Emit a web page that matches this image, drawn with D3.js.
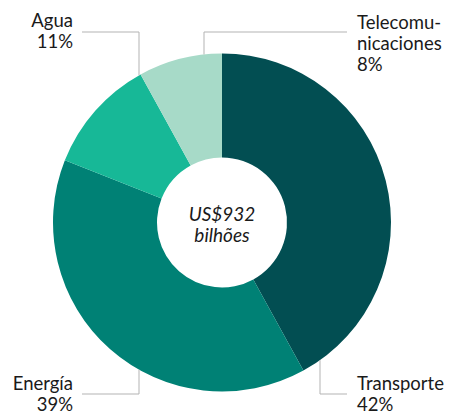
<!DOCTYPE html>
<html>
<head>
<meta charset="utf-8">
<script src="https://cdn.jsdelivr.net/npm/d3@7"></script>
<style>
  body { margin: 0; background: #fff; }
  svg text { font-family: Lato, "Noto Sans", sans-serif; fill: #1a1a1a; }
</style>
</head>
<body>
<div class="chart"></div>
<script>
// data
const sectors = ["Transporte", "Energía", "Agua", "Telecomunicaciones"];
const shares = [42, 39, 11, 8];
const labelLines = [["Transporte", "42%"], ["Energía", "39%"], ["Agua", "11%"], ["Telecomu-", "nicaciones", "8%"]];
const colors = ["#024e52", "#008175", "#17b897", "#a7dac8"];
const centerLines = ["US$932", "bilhões"];

const w = 449, h = 414;
const cx = 222, cy = 222.5;
const outerR = 169, innerR = 65;

const svg = d3.select(".chart").append("svg")
  .attr("width", w)
  .attr("height", h);

const pie = d3.pie().sort(null).value(d => d)(shares);

const arc = d3.arc()
  .innerRadius(innerR)
  .outerRadius(outerR);

const g = svg.append("g")
  .attr("transform", "translate(" + cx + "," + cy + ")");

g.selectAll("path.slice")
  .data(pie)
  .enter().append("path")
  .attr("class", "slice")
  .attr("d", arc)
  .attr("fill", (d, i) => colors[i]);

// leader lines: a horizontal run out to the label, then a vertical drop onto the ring
const leaders = [
  { x: 320, y: 394, tx: 347, side: 1, anchor: "start", lx: 357, ly: 390 },   // Transporte
  { x: 139, y: 394, tx: 82, side: 1, anchor: "end", lx: 73, ly: 390 },       // Energía
  { x: 139, y: 32, tx: 82, side: -1, anchor: "end", lx: 73, ly: 27 },        // Agua
  { x: 204, y: 32, tx: 347, side: -1, anchor: "start", lx: 357, ly: 29 }     // Telecom
];

leaders.forEach(function(l, i) {
  const dx = l.x - cx;
  const ringY = cy + l.side * Math.sqrt(outerR * outerR - dx * dx);
  svg.append("path")
    .attr("d", "M" + l.tx + "," + l.y + "H" + l.x + "V" + ringY)
    .attr("fill", "none")
    .attr("stroke", "#b3b3b3")
    .attr("stroke-width", 1);

  const t = svg.append("text")
    .attr("text-anchor", l.anchor)
    .attr("font-size", 18.5);
  labelLines[i].forEach(function(s, j) {
    t.append("tspan")
      .attr("x", l.lx)
      .attr("y", l.ly + j * 21)
      .text(s);
  });
});

const c = svg.append("text")
  .attr("text-anchor", "middle")
  .attr("font-size", 19)
  .attr("font-style", "italic");
centerLines.forEach(function(s, j) {
  c.append("tspan")
    .attr("x", cx)
    .attr("y", 221 + j * 21)
    .text(s);
});
</script>
</body>
</html>
